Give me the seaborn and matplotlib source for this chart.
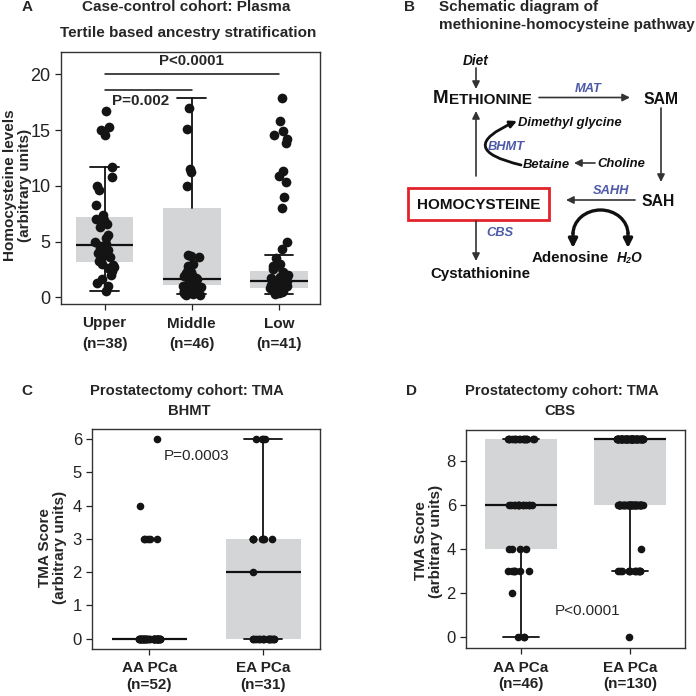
import matplotlib
matplotlib.use("Agg")
import matplotlib.pyplot as plt
import numpy as np
import pandas as pd
import seaborn as sns
from matplotlib.patches import Rectangle, Arc

# Panel A data: plasma homocysteine by ancestry tertile
groups_a = ["Upper", "Middle", "Low"]
n_a = [38, 46, 41]
upper_vals = [16.7, 15.3, 15.0, 14.6, 11.7, 10.8, 10.0, 9.6, 8.3, 7.4, 7.0, 6.9, 6.6,
              6.3, 5.6, 5.3, 5.0, 4.8, 4.6, 4.5, 4.4, 4.2, 4.1, 4.0, 3.8, 3.6, 3.5, 3.3,
              3.0, 2.9, 2.7, 2.6, 2.4, 2.0, 1.6, 1.3, 1.0, 0.6]
middle_vals = [17.0, 15.1, 11.5, 11.2, 10.0, 3.8, 3.7, 3.6, 3.0, 2.8, 2.5, 2.3, 2.2, 2.1,
               2.0, 1.9, 1.9, 1.8, 1.7, 1.6, 1.6, 1.5, 1.5, 1.4, 1.3, 1.2, 1.2, 1.1, 1.0,
               1.0, 0.9, 0.9, 0.8, 0.8, 0.7, 0.7, 0.6, 0.6, 0.5, 0.5, 0.4, 0.4, 0.3, 0.3,
               0.2, 0.2]
low_vals = [17.9, 15.8, 14.9, 14.6, 14.2, 13.8, 11.3, 10.9, 10.3, 9.0, 8.0, 5.0, 4.3,
            3.5, 3.0, 2.8, 2.5, 2.3, 2.1, 2.0, 1.9, 1.8, 1.7, 1.6, 1.5, 1.5, 1.4, 1.3,
            1.2, 1.2, 1.1, 1.0, 1.0, 0.9, 0.8, 0.8, 0.7, 0.6, 0.5, 0.4, 0.3]
a_q1 = [3.2, 1.1, 0.85]
a_med = [4.65, 1.65, 1.5]
a_q3 = [7.2, 8.0, 2.4]
a_lo = [0.6, 0.3, 0.3]
a_hi = [11.7, 17.9, 3.75]

# Panel C data: BHMT TMA score
groups_cd = ["AA PCa", "EA PCa"]
n_c = [52, 31]
c_aa_scores = [0, 3, 4, 6]
c_aa_counts = [45, 5, 1, 1]
c_ea_scores = [0, 2, 3, 6]
c_ea_counts = [18, 1, 8, 4]
c_q1 = [0, 0]
c_med = [0, 2]
c_q3 = [0, 3]
c_lo = [0, 0]
c_hi = [0, 6]

# Panel D data: CBS TMA score
n_d = [46, 130]
d_aa_scores = [0, 2, 3, 4, 6, 9]
d_aa_counts = [3, 1, 7, 4, 14, 17]
d_ea_scores = [0, 3, 4, 6, 9]
d_ea_counts = [1, 13, 1, 45, 70]
d_q1 = [4, 6]
d_med = [6, 9]
d_q3 = [9, 9]
d_lo = [0, 3]
d_hi = [9, 9]

sns.set_theme(style="ticks")
plt.rcParams["font.family"] = ["Liberation Sans", "DejaVu Sans"]
np.random.seed(3)

DOT = "#141414"
GREY = "#d4d5d7"
BLUE = "#4e5aa8"
W, H = 696, 696

fig = plt.figure(figsize=(6.96, 6.96), dpi=100)


def px(x, y):
    return x / W, 1 - y / H


def axes_px(left, top, right, bottom):
    return fig.add_axes([left / W, 1 - bottom / H, (right - left) / W, (bottom - top) / H])


def draw_boxes(ax, q1, med, q3, lo, hi):
    stats = []
    for a, m, b, l, h in zip(q1, med, q3, lo, hi):
        stats.append(dict(q1=a, med=m, q3=b, whislo=l, whishi=h, fliers=[]))
    ax.bxp(stats, positions=range(len(stats)), widths=0.66, capwidths=0.33,
           patch_artist=True, showfliers=False, manage_ticks=False,
           boxprops=dict(facecolor=GREY, edgecolor="none", linewidth=0),
           medianprops=dict(color="#111111", linewidth=1.6),
           whiskerprops=dict(color="#111111", linewidth=1.3),
           capprops=dict(color="#111111", linewidth=1.3))


def style_axes(ax, labels, ylabel, label_xy, tick_size, linespacing):
    ax.set_xticks(range(len(labels)))
    ax.set_xticklabels(labels, fontsize=11, fontweight="bold", linespacing=linespacing)
    ax.set_xlabel("")
    ax.set_ylabel(ylabel, fontsize=11, fontweight="bold", linespacing=1.1)
    ax.yaxis.set_label_coords(*label_xy)
    ax.tick_params(axis="y", labelsize=tick_size, length=4, width=0.9, colors="#222222")
    ax.tick_params(axis="x", length=4, width=0.9, colors="#222222", pad=5)
    for sp in ax.spines.values():
        sp.set_visible(True)
        sp.set_color("#333333")
        sp.set_linewidth(1.0)


# ---------------- Panel A ----------------
ax_a = axes_px(61, 52, 320, 304)
df_a = pd.DataFrame({
    "group": ["Upper"] * len(upper_vals) + ["Middle"] * len(middle_vals) + ["Low"] * len(low_vals),
    "value": upper_vals + middle_vals + low_vals,
})
draw_boxes(ax_a, a_q1, a_med, a_q3, a_lo, a_hi)
sns.stripplot(data=df_a, x="group", y="value", order=groups_a, color=DOT, size=7,
              jitter=0.11, linewidth=0, ax=ax_a, zorder=3)
ax_a.set_xlim(-0.5, 2.47)
ax_a.set_ylim(-0.6, 22)
ax_a.set_yticks([0, 5, 10, 15, 20])
style_axes(ax_a, [f"{g}\n(n={n})" for g, n in zip(groups_a, n_a)],
           "Homocysteine levels\n(arbitrary units)", (-0.112, 0.47), 13, 1.55)
ax_a.plot([0, 2], [20, 20], color="#111111", lw=1.1)
ax_a.text(1, 21.2, "P<0.0001", ha="center", va="center", fontsize=10.8, fontweight="bold")
ax_a.plot([0, 1], [18.6, 18.6], color="#111111", lw=1.1)
ax_a.text(0.41, 17.6, "P=0.002", ha="center", va="center", fontsize=11, fontweight="bold")

fig.text(*px(27, 7), "A", ha="center", va="center", fontsize=11, fontweight="bold")
fig.text(*px(186, 7), "Case-control cohort: Plasma", ha="center", va="center",
         fontsize=11, fontweight="bold")
fig.text(*px(188, 33), "Tertile based ancestry stratification", ha="center", va="center",
         fontsize=11, fontweight="bold")

# ---------------- Panel C ----------------
ax_c = axes_px(92.3, 429, 320, 649)
df_c = pd.DataFrame({
    "group": ["AA PCa"] * sum(c_aa_counts) + ["EA PCa"] * sum(c_ea_counts),
    "value": list(np.repeat(c_aa_scores, c_aa_counts)) + list(np.repeat(c_ea_scores, c_ea_counts)),
})
draw_boxes(ax_c, c_q1, c_med, c_q3, c_lo, c_hi)
sns.stripplot(data=df_c, x="group", y="value", order=groups_cd, color=DOT, size=5.5,
              jitter=0.1, linewidth=0, ax=ax_c, zorder=3)
ax_c.set_xlim(-0.5, 1.5)
ax_c.set_ylim(-0.31, 6.3)
ax_c.set_yticks(range(0, 7))
style_axes(ax_c, [f"{g}\n(n={n})" for g, n in zip(groups_cd, n_c)],
           "TMA Score\n(arbitrary units)", (-0.111, 0.46), 12, 1.2)
ax_c.text(0.42, 5.48, "P=0.0003", ha="center", va="center", fontsize=11)

fig.text(*px(26.7, 391.3), "C", ha="center", va="center", fontsize=11, fontweight="bold")
fig.text(*px(187, 391.3), "Prostatectomy cohort: TMA", ha="center", va="center",
         fontsize=10.6, fontweight="bold")
fig.text(*px(189, 411.3), "BHMT", ha="center", va="center", fontsize=10.6, fontweight="bold")

# ---------------- Panel D ----------------
ax_d = axes_px(466.3, 429.7, 684.7, 648)
df_d = pd.DataFrame({
    "group": ["AA PCa"] * sum(d_aa_counts) + ["EA PCa"] * sum(d_ea_counts),
    "value": list(np.repeat(d_aa_scores, d_aa_counts)) + list(np.repeat(d_ea_scores, d_ea_counts)),
})
draw_boxes(ax_d, d_q1, d_med, d_q3, d_lo, d_hi)
sns.stripplot(data=df_d, x="group", y="value", order=groups_cd, color=DOT, size=5.5,
              jitter=0.12, linewidth=0, ax=ax_d, zorder=3)
ax_d.set_xlim(-0.5, 1.5)
ax_d.set_ylim(-0.49, 9.44)
ax_d.set_yticks([0, 2, 4, 6, 8])
style_axes(ax_d, [f"{g}\n(n={n})" for g, n in zip(groups_cd, n_d)],
           "TMA Score\n(arbitrary units)", (-0.107, 0.49), 12, 1.2)
ax_d.text(0.61, 1.18, "P<0.0001", ha="center", va="center", fontsize=11)

fig.text(*px(411.3, 391.3), "D", ha="center", va="center", fontsize=11, fontweight="bold")
fig.text(*px(562, 391.3), "Prostatectomy cohort: TMA", ha="center", va="center",
         fontsize=10.6, fontweight="bold")
fig.text(*px(560, 411.3), "CBS", ha="center", va="center", fontsize=10.6, fontweight="bold")

# ---------------- Panel B: pathway schematic ----------------
ax_b = fig.add_axes([0.5, 0.5, 0.5, 0.5])
ax_b.set_xlim(348, 696)
ax_b.set_ylim(348, 0)
ax_b.axis("off")

fig.text(*px(409.7, 6.7), "B", ha="center", va="center", fontsize=11, fontweight="bold")
fig.text(*px(438.7, 6.7), "Schematic diagram of", ha="left", va="center",
         fontsize=11, fontweight="bold")
fig.text(*px(438.7, 25), "methionine-homocysteine pathway", ha="left", va="center",
         fontsize=11, fontweight="bold")


def arrow(p0, p1, lw=1.2, color="#333333", ms=11, style="-|>", conn="arc3"):
    ax_b.annotate("", xy=p1, xytext=p0,
                  arrowprops=dict(arrowstyle=style, color=color, lw=lw, mutation_scale=ms,
                                  shrinkA=0, shrinkB=0, connectionstyle=conn))


def label(x, y, s, size=11, style="normal", color="#111111", ha="center"):
    ax_b.text(x, y, s, ha=ha, va="center", fontsize=size, fontweight="bold",
              fontstyle=style, color=color)


label(476, 61, "Diet", 9.8, "italic")
arrow((476, 68), (476, 89))

t_m = ax_b.text(433, 98.5, "M", ha="left", va="center", fontsize=13.5, fontweight="bold",
                color="#111111")
ax_b.annotate("ETHIONINE", xy=(1, 0), xycoords=t_m, ha="left", va="bottom",
              fontsize=11, fontweight="bold", color="#111111")

arrow((539, 97.5), (630, 97.5))
label(588, 89, "MAT", 9.3, "italic", BLUE)
label(661, 99, "SAM", 11.3)
arrow((661, 108), (661, 182))
label(658, 201.7, "SAH", 11.3)
arrow((635, 200), (566, 200))
label(611, 191.5, "SAHH", 9.3, "italic", BLUE)

ax_b.add_patch(Arc((600.5, 234), 55, 48, theta1=180, theta2=360, color="#111111", lw=2.4))
arrow((573, 233), (573, 248), lw=2.4, color="#111111", ms=13)
arrow((628, 233), (628, 248), lw=2.4, color="#111111", ms=13)
label(570, 258.3, "Adenosine", 10.9)
label(630, 258.3, "H₂O", 9.8, "italic")

ax_b.add_patch(Rectangle((408, 188.3), 141, 31.7, fill=False, edgecolor="#e2232a", lw=2))
label(478.7, 205, "HOMOCYSTEINE", 11)
arrow((476, 176), (476, 111))
arrow((476, 221), (476, 261))
label(500, 233, "CBS", 9.3, "italic", BLUE)
label(480, 274, "Cystathionine", 10.9)

arrow((521, 165), (517, 121), lw=2, color="#111111", ms=10, conn="arc3,rad=-1.5")
label(518, 123, "Dimethyl glycine", 9.4, "italic", ha="left")
label(506, 146.7, "BHMT", 9.3, "italic", BLUE)
label(546, 165, "Betaine", 9.4, "italic")
label(621, 164, "Choline", 9.4, "italic")
arrow((595, 163), (574, 163))

fig.savefig("out.png", dpi=100)
